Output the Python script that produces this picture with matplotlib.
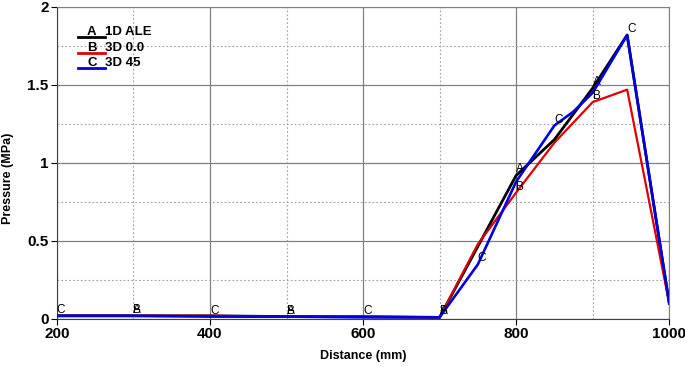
import matplotlib.pyplot as plt

plt.rcParams['font.family'] = ['Liberation Sans', 'DejaVu Sans']

# curvas
dist_a = [200, 300, 400, 500, 600, 700, 800, 850, 900, 945, 1000]
pres_a = [0.02, 0.02, 0.02, 0.015, 0.015, 0.01, 0.92, 1.15, 1.48, 1.82, 0.10]

dist_b = [200, 300, 400, 500, 600, 700, 750, 800, 850, 900, 945, 1000]
pres_b = [0.02, 0.02, 0.02, 0.015, 0.015, 0.01, 0.48, 0.81, 1.13, 1.39, 1.47, 0.10]

dist_c = [200, 300, 400, 500, 600, 700, 750, 800, 850, 875, 900, 945, 1000]
pres_c = [0.02, 0.02, 0.015, 0.015, 0.01, 0.01, 0.35, 0.88, 1.24, 1.33, 1.45, 1.82, 0.10]

# posiciones de las letras de cada serie
mark_a = [(300, 0.02), (500, 0.015), (700, 0.01), (800, 0.92), (900, 1.48)]
mark_b = [(300, 0.02), (500, 0.015), (700, 0.01), (800, 0.81), (900, 1.39)]
mark_c = [(200, 0.02), (400, 0.015), (600, 0.01), (750, 0.35), (850, 1.24), (945, 1.82)]

series = [
    ("A", "1D ALE", dist_a, pres_a, mark_a, "black", 2.0),
    ("B", "3D 0.0", dist_b, pres_b, mark_b, "#e00000", 1.6),
    ("C", "3D 45", dist_c, pres_c, mark_c, "#0000e0", 1.9),
]

fig = plt.figure(figsize=(6.85, 3.67), dpi=100)
ax = fig.add_axes([0.083, 0.131, 0.894, 0.85])

for letra, nombre, x, y, marcas, color, lw in series:
    ax.plot(x, y, color=color, lw=lw, zorder=3)
    for mx, my in marcas:
        ax.text(mx, my, letra, fontsize=8.5, ha="left", va="bottom", color="black", zorder=4)

# leyenda hecha a mano: linea con la letra encima
for i, (letra, nombre, x, y, marcas, color, lw) in enumerate(series):
    yy = 0.904 - i * 0.05
    ax.plot([0.034, 0.079], [yy, yy], color=color, lw=2.0, transform=ax.transAxes, clip_on=False)
    ax.text(0.057, yy - 0.004, letra, transform=ax.transAxes, ha="center", va="bottom", fontsize=9.5, fontweight="bold")
    ax.text(0.079, yy - 0.004, nombre, transform=ax.transAxes, ha="left", va="bottom", fontsize=9.5, fontweight="bold")

ax.set_xlim(200, 1000)
ax.set_ylim(0, 2)
ax.set_xticks([200, 400, 600, 800, 1000])
ax.set_yticks([0, 0.5, 1, 1.5, 2])
ax.set_yticklabels(["0", "0.5", "1", "1.5", "2"])
ax.set_xticks([300, 500, 700, 900], minor=True)
ax.set_yticks([0.25, 0.75, 1.25, 1.75], minor=True)
ax.grid(which="major", color="#808080", lw=0.9)
ax.grid(which="minor", color="#a0a0a0", lw=0.8, ls=(0, (1.5, 2)))
ax.tick_params(which="major", direction="out", length=4, labelsize=11, pad=2)
ax.tick_params(which="minor", length=0)
for lab in ax.get_xticklabels() + ax.get_yticklabels():
    lab.set_fontweight("bold")

ax.spines["top"].set_color("#808080")
ax.spines["right"].set_color("#808080")
ax.spines["left"].set_color("#404040")
ax.spines["bottom"].set_color("#404040")

ax.set_xlabel("Distance (mm)", fontsize=9, fontweight="bold", labelpad=6)
ax.set_ylabel("Pressure (MPa)", fontsize=9, fontweight="bold", labelpad=6)
ax.yaxis.set_label_coords(-0.07, 0.45)

fig.savefig("out.png")
